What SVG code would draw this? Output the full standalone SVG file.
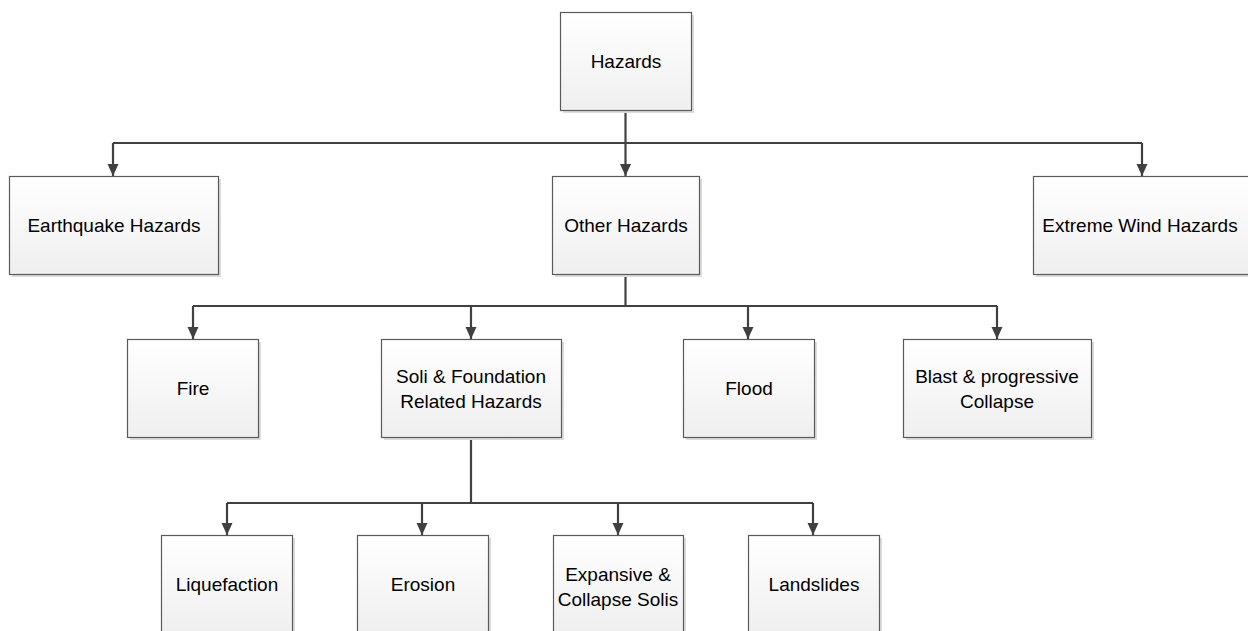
<svg xmlns="http://www.w3.org/2000/svg" width="1248" height="631" viewBox="0 0 1248 631">
<defs>
<linearGradient id="g" x1="0" y1="0" x2="0" y2="1">
<stop offset="0" stop-color="#ffffff"/>
<stop offset="1" stop-color="#efefef"/>
</linearGradient>
<marker id="arr" markerWidth="12" markerHeight="12" viewBox="0 0 12 12" refX="12" refY="6" orient="auto" markerUnits="userSpaceOnUse">
<path d="M0,0.5 L12,6 L0,11.5 Z" fill="#404040"/>
</marker>
</defs>
<style>
.sh{fill:#dcdcdc}
.bx{fill:url(#g);stroke:#5a5a5a;stroke-width:1.2}
.t{font-family:"Liberation Sans",Arial,sans-serif;font-size:19px;fill:#000;text-anchor:middle}
.c{fill:none;stroke:#404040;stroke-width:2.2}
</style>
<rect width="1248" height="631" fill="#fff"/>

<g id="connectors">
<path class="c" d="M625.5,110 V143"/>
<path class="c" d="M113,143 H1142"/>
<path class="c" d="M113,143 V176" marker-end="url(#arr)"/>
<path class="c" d="M625.5,143 V176" marker-end="url(#arr)"/>
<path class="c" d="M1142,143 V176" marker-end="url(#arr)"/>
<path class="c" d="M625.5,274 V306"/>
<path class="c" d="M193,306 H997"/>
<path class="c" d="M193,306 V339" marker-end="url(#arr)"/>
<path class="c" d="M471,306 V339" marker-end="url(#arr)"/>
<path class="c" d="M748,306 V339" marker-end="url(#arr)"/>
<path class="c" d="M997,306 V339" marker-end="url(#arr)"/>
<path class="c" d="M471,437 V503"/>
<path class="c" d="M227,503 H813"/>
<path class="c" d="M227,503 V535" marker-end="url(#arr)"/>
<path class="c" d="M422,503 V535" marker-end="url(#arr)"/>
<path class="c" d="M618,503 V535" marker-end="url(#arr)"/>
<path class="c" d="M813,503 V535" marker-end="url(#arr)"/>
</g>

<g id="hazards">
<rect class="sh" x="563" y="15" width="131" height="98"/>
<rect class="bx" x="560.5" y="12.5" width="131" height="98"/>
<text class="t" x="626" y="68">Hazards</text>
</g>

<g id="earthquake">
<rect class="sh" x="12" y="179" width="209" height="98"/>
<rect class="bx" x="9.5" y="176.5" width="209" height="98"/>
<text class="t" x="114" y="232">Earthquake Hazards</text>
</g>

<g id="other">
<rect class="sh" x="555" y="179" width="147" height="98"/>
<rect class="bx" x="552.5" y="176.5" width="147" height="98"/>
<text class="t" x="626" y="232">Other Hazards</text>
</g>

<g id="wind">
<rect class="sh" x="1036" y="179" width="220" height="98"/>
<rect class="bx" x="1033.5" y="176.5" width="220" height="98"/>
<text class="t" x="1140" y="232">Extreme Wind Hazards</text>
</g>

<g id="fire">
<rect class="sh" x="130" y="342" width="131" height="98"/>
<rect class="bx" x="127.5" y="339.5" width="131" height="98"/>
<text class="t" x="193" y="395">Fire</text>
</g>

<g id="soil">
<rect class="sh" x="384" y="342" width="180" height="98"/>
<rect class="bx" x="381.5" y="339.5" width="180" height="98"/>
<text class="t" x="471" y="383">Soli &amp; Foundation</text>
<text class="t" x="471" y="408">Related Hazards</text>
</g>

<g id="flood">
<rect class="sh" x="686" y="342" width="131" height="98"/>
<rect class="bx" x="683.5" y="339.5" width="131" height="98"/>
<text class="t" x="749" y="395">Flood</text>
</g>

<g id="blast">
<rect class="sh" x="906" y="342" width="188" height="98"/>
<rect class="bx" x="903.5" y="339.5" width="188" height="98"/>
<text class="t" x="997" y="383">Blast &amp; progressive</text>
<text class="t" x="997" y="408">Collapse</text>
</g>

<g id="liquefaction">
<rect class="sh" x="164" y="538" width="131" height="98"/>
<rect class="bx" x="161.5" y="535.5" width="131" height="98"/>
<text class="t" x="227" y="591">Liquefaction</text>
</g>

<g id="erosion">
<rect class="sh" x="360" y="538" width="131" height="98"/>
<rect class="bx" x="357.5" y="535.5" width="131" height="98"/>
<text class="t" x="423" y="591">Erosion</text>
</g>

<g id="expansive">
<rect class="sh" x="556" y="538" width="130" height="98"/>
<rect class="bx" x="553.5" y="535.5" width="130" height="98"/>
<text class="t" x="618" y="581">Expansive &amp;</text>
<text class="t" x="618" y="606">Collapse Solis</text>
</g>

<g id="landslides">
<rect class="sh" x="751" y="538" width="131" height="98"/>
<rect class="bx" x="748.5" y="535.5" width="131" height="98"/>
<text class="t" x="814" y="591">Landslides</text>
</g>
</svg>
